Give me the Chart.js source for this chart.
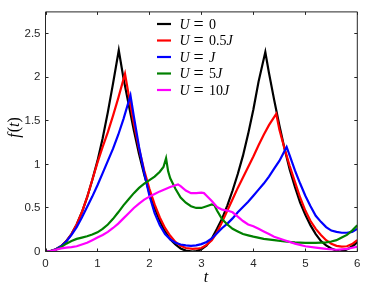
<!DOCTYPE html>
<html><head><meta charset="utf-8">
<script src="https://cdn.jsdelivr.net/npm/chart.js@4"></script>
<style>html,body{margin:0;padding:0;background:#fff;}canvas{display:block;}</style>
</head><body>
<canvas id="c" width="366" height="286"></canvas>
<script>
// ---- data ----
const tBlack = [0,0.1,0.2,0.3,0.4,0.5,0.6,0.7,0.8,0.9,1.0,1.1,1.2,1.3,1.41,1.5,1.6,1.7,1.8,1.9,2.0,2.1,2.2,2.3,2.4,2.5,2.6,2.7,2.83,2.9,3.0,3.1,3.2,3.3,3.4,3.5,3.6,3.7,3.8,3.9,4.0,4.1,4.23,4.3,4.4,4.5,4.6,4.7,4.8,4.9,5.0,5.1,5.2,5.3,5.4,5.5,5.6,5.66,5.75,5.85,5.95,6.0];
const fBlack = [0,0.005,0.025,0.06,0.12,0.2,0.31,0.45,0.62,0.82,1.04,1.3,1.6,1.93,2.31,1.99,1.69,1.39,1.12,0.88,0.67,0.5,0.35,0.23,0.14,0.08,0.035,0.01,0,0.005,0.025,0.07,0.15,0.26,0.38,0.53,0.7,0.89,1.1,1.35,1.63,1.95,2.29,2.05,1.74,1.45,1.18,0.94,0.74,0.56,0.42,0.3,0.2,0.12,0.07,0.035,0.01,0,0.01,0.04,0.08,0.11];

const tRed = [0,0.1,0.2,0.3,0.4,0.5,0.6,0.7,0.8,0.9,1.0,1.1,1.2,1.3,1.4,1.53,1.6,1.7,1.8,1.9,2.0,2.1,2.2,2.3,2.4,2.5,2.6,2.7,2.83,2.95,3.0,3.1,3.2,3.3,3.4,3.5,3.6,3.7,3.8,3.9,4.0,4.1,4.2,4.3,4.44,4.5,4.6,4.7,4.8,4.9,5.0,5.1,5.2,5.3,5.4,5.5,5.6,5.7,5.8,5.9,6.0];
const fRed = [0,0.005,0.025,0.06,0.12,0.2,0.31,0.45,0.62,0.82,1.02,1.2,1.37,1.56,1.76,2.04,1.8,1.47,1.18,0.93,0.72,0.54,0.39,0.27,0.18,0.11,0.065,0.04,0.03,0.035,0.04,0.075,0.13,0.22,0.34,0.47,0.6,0.73,0.85,0.97,1.09,1.22,1.34,1.45,1.58,1.4,1.18,0.98,0.8,0.62,0.47,0.35,0.26,0.19,0.13,0.09,0.065,0.055,0.06,0.085,0.13];

const tBlue = [0,0.1,0.2,0.3,0.4,0.5,0.6,0.7,0.8,0.9,1.0,1.1,1.2,1.3,1.4,1.5,1.635,1.7,1.8,1.9,2.0,2.1,2.2,2.3,2.4,2.5,2.6,2.7,2.8,2.9,3.0,3.1,3.2,3.3,3.4,3.5,3.6,3.7,3.8,3.9,4.0,4.1,4.2,4.3,4.4,4.5,4.64,4.7,4.8,4.9,5.0,5.1,5.2,5.3,5.4,5.5,5.6,5.7,5.8,5.9,6.0];
const fBlue = [0,0.005,0.025,0.06,0.115,0.19,0.28,0.39,0.51,0.63,0.76,0.9,1.04,1.18,1.34,1.52,1.79,1.55,1.2,0.9,0.64,0.44,0.3,0.2,0.14,0.1,0.08,0.07,0.065,0.07,0.085,0.11,0.15,0.21,0.27,0.32,0.38,0.45,0.51,0.57,0.64,0.71,0.78,0.86,0.95,1.04,1.2,1.1,0.93,0.78,0.64,0.52,0.41,0.34,0.28,0.24,0.225,0.215,0.215,0.225,0.26];

const tGreen = [0,0.1,0.2,0.3,0.4,0.5,0.6,0.7,0.8,0.9,1.0,1.1,1.2,1.3,1.4,1.5,1.6,1.7,1.8,1.9,2.0,2.1,2.2,2.27,2.32,2.36,2.4,2.5,2.6,2.7,2.8,2.9,3.0,3.1,3.2,3.25,3.3,3.4,3.5,3.6,3.7,3.8,3.9,4.0,4.2,4.4,4.6,4.8,5.0,5.2,5.4,5.5,5.6,5.7,5.8,5.9,6.0];
const fGreen = [0,0.005,0.02,0.05,0.09,0.12,0.145,0.16,0.175,0.195,0.22,0.26,0.31,0.375,0.45,0.53,0.6,0.67,0.73,0.78,0.82,0.86,0.915,0.97,1.07,0.92,0.84,0.72,0.62,0.56,0.52,0.5,0.5,0.52,0.54,0.53,0.47,0.37,0.31,0.26,0.23,0.2,0.185,0.17,0.145,0.13,0.115,0.105,0.1,0.1,0.105,0.115,0.13,0.16,0.19,0.24,0.3];

const tMag = [0,0.1,0.2,0.3,0.4,0.5,0.6,0.7,0.8,0.9,1.0,1.1,1.2,1.3,1.4,1.5,1.6,1.7,1.8,1.9,2.0,2.1,2.2,2.3,2.4,2.5,2.55,2.6,2.7,2.8,2.9,3.0,3.05,3.1,3.2,3.3,3.4,3.5,3.6,3.7,3.8,3.9,4.0,4.1,4.2,4.3,4.4,4.6,4.8,5.0,5.2,5.4,5.6,5.8,6.0];
const fMag = [0,0.005,0.02,0.035,0.045,0.05,0.06,0.08,0.1,0.13,0.16,0.19,0.225,0.27,0.32,0.38,0.44,0.5,0.55,0.595,0.63,0.66,0.69,0.715,0.74,0.76,0.77,0.75,0.7,0.67,0.67,0.675,0.67,0.64,0.58,0.51,0.48,0.47,0.45,0.4,0.35,0.31,0.29,0.26,0.23,0.2,0.17,0.13,0.09,0.06,0.045,0.03,0.02,0.03,0.055];

const seriesLabels = ['U = 0', 'U = 0.5J', 'U = J', 'U = 5J', 'U = 10J'];
const seriesColors = ['#000000', '#ff0000', '#0000ff', '#008000', '#ff00ff'];
const xTicks = [0,1,2,3,4,5,6];
const xTickLabels = ['0','1','2','3','4','5','6'];
const yTicks = [0,0.5,1,1.5,2,2.5];
const yTickLabels = ['0','0.5','1','1.5','2','2.5'];

const tArr = [tBlack, tRed, tBlue, tGreen, tMag];
const fArr = [fBlack, fRed, fBlue, fGreen, fMag];

const datasets = tArr.map((ts, i) => ({
  label: seriesLabels[i],
  data: ts.map((t, j) => ({x: t, y: fArr[i][j]})),
  borderColor: seriesColors[i],
  borderWidth: 2.2,
  pointRadius: 0,
  tension: 0,
  fill: false,
  order: 5 - i
}));

const AX = '#262626';
const tickFont = {family: "'Liberation Sans', Arial, sans-serif", size: 11.5};

function drawMath(ctx, str, x, y, size) {
  let cx = x;
  for (const ch of str) {
    const it = /[A-Za-z]/.test(ch);
    ctx.font = (it ? 'italic ' : '') + size + "px 'Liberation Serif', 'Times New Roman', serif";
    ctx.fillText(ch, cx, y);
    cx += ctx.measureText(ch).width;
  }
  return cx;
}

const decor = {
  id: 'decor',
  afterDatasetsDraw(chart) {
    const ctx = chart.ctx;
    const a = chart.chartArea;
    const xs = chart.scales.x, ys = chart.scales.y;
    ctx.save();
    ctx.strokeStyle = AX;
    ctx.lineWidth = 1;
    ctx.beginPath();
    ctx.rect(a.left, a.top, a.right - a.left, a.bottom - a.top);
    ctx.stroke();
    const L = 3;
    ctx.beginPath();
    xTicks.forEach(v => {
      const px = Math.round(xs.getPixelForValue(v)) + 0.5;
      ctx.moveTo(px, a.bottom); ctx.lineTo(px, a.bottom - L);
      ctx.moveTo(px, a.top); ctx.lineTo(px, a.top + L);
    });
    yTicks.forEach(v => {
      const py = Math.round(ys.getPixelForValue(v) - 0.5) + 0.5;
      ctx.moveTo(a.left, py); ctx.lineTo(a.left + L, py);
      ctx.moveTo(a.right, py); ctx.lineTo(a.right - L, py);
    });
    ctx.stroke();

    // legend
    ctx.textBaseline = 'alphabetic';
    ctx.fillStyle = '#000';
    seriesLabels.forEach((lab, i) => {
      const y = 24 + i * 16.5;
      ctx.strokeStyle = seriesColors[i];
      ctx.lineWidth = 2.2;
      ctx.beginPath();
      ctx.moveTo(157, y); ctx.lineTo(171, y);
      ctx.stroke();
      const parts = lab.split(' = ');
      const by = y + 4.8;
      drawMath(ctx, parts[0], 179.5, by, 14);
      ctx.font = "18px 'Liberation Serif', serif";
      ctx.fillText('=', 193.5, by + 0.8);
      drawMath(ctx, parts[1], 209, by, 14);
    });

    // axis titles
    ctx.fillStyle = '#000';
    ctx.textBaseline = 'alphabetic';
    ctx.font = "italic 16px 'Liberation Serif', serif";
    ctx.textAlign = 'center';
    ctx.fillText('t', 206, 282);
    ctx.textAlign = 'left';
    ctx.save();
    ctx.translate(19, 128);
    ctx.rotate(-Math.PI / 2);
    const pieces = [['f', true], ['(', false], ['t', true], [')', false]];
    let w = 0;
    pieces.forEach(p => { ctx.font = (p[1] ? 'italic ' : '') + "16px 'Liberation Serif', serif"; w += ctx.measureText(p[0]).width; });
    let cx = -w / 2;
    pieces.forEach(p => { ctx.font = (p[1] ? 'italic ' : '') + "16px 'Liberation Serif', serif"; ctx.fillText(p[0], cx, 0); cx += ctx.measureText(p[0]).width + (p[0]==='f' ? 1 : 0); });
    ctx.restore();
    ctx.restore();
  }
};

new Chart(document.getElementById('c'), {
  type: 'line',
  data: {datasets},
  options: {
    responsive: false,
    animation: false,
    devicePixelRatio: 1,
    layout: {padding: {left: 0, right: 6.5, top: 4.5, bottom: 0}},
    plugins: {legend: {display: false}, tooltip: {enabled: false}},
    scales: {
      x: {
        type: 'linear', min: 0, max: 6,
        grid: {display: false, drawTicks: false},
        border: {display: false},
        afterBuildTicks: s => { s.ticks = xTicks.map(v => ({value: v})); },
        afterFit: s => { s.height = 34.5; },
        ticks: {padding: 5.5, color: AX, font: tickFont, maxRotation: 0,
          callback: (v) => xTickLabels[xTicks.indexOf(v)]}
      },
      y: {
        type: 'linear', min: 0, max: 2.75,
        grid: {display: false, drawTicks: false},
        border: {display: false},
        afterBuildTicks: s => { s.ticks = yTicks.map(v => ({value: v})); },
        afterFit: s => { s.width = 45.5; },
        ticks: {padding: 5, color: AX, font: tickFont,
          callback: (v) => yTickLabels[yTicks.indexOf(v)]}
      }
    }
  },
  plugins: [decor]
});
</script>
</body></html>
